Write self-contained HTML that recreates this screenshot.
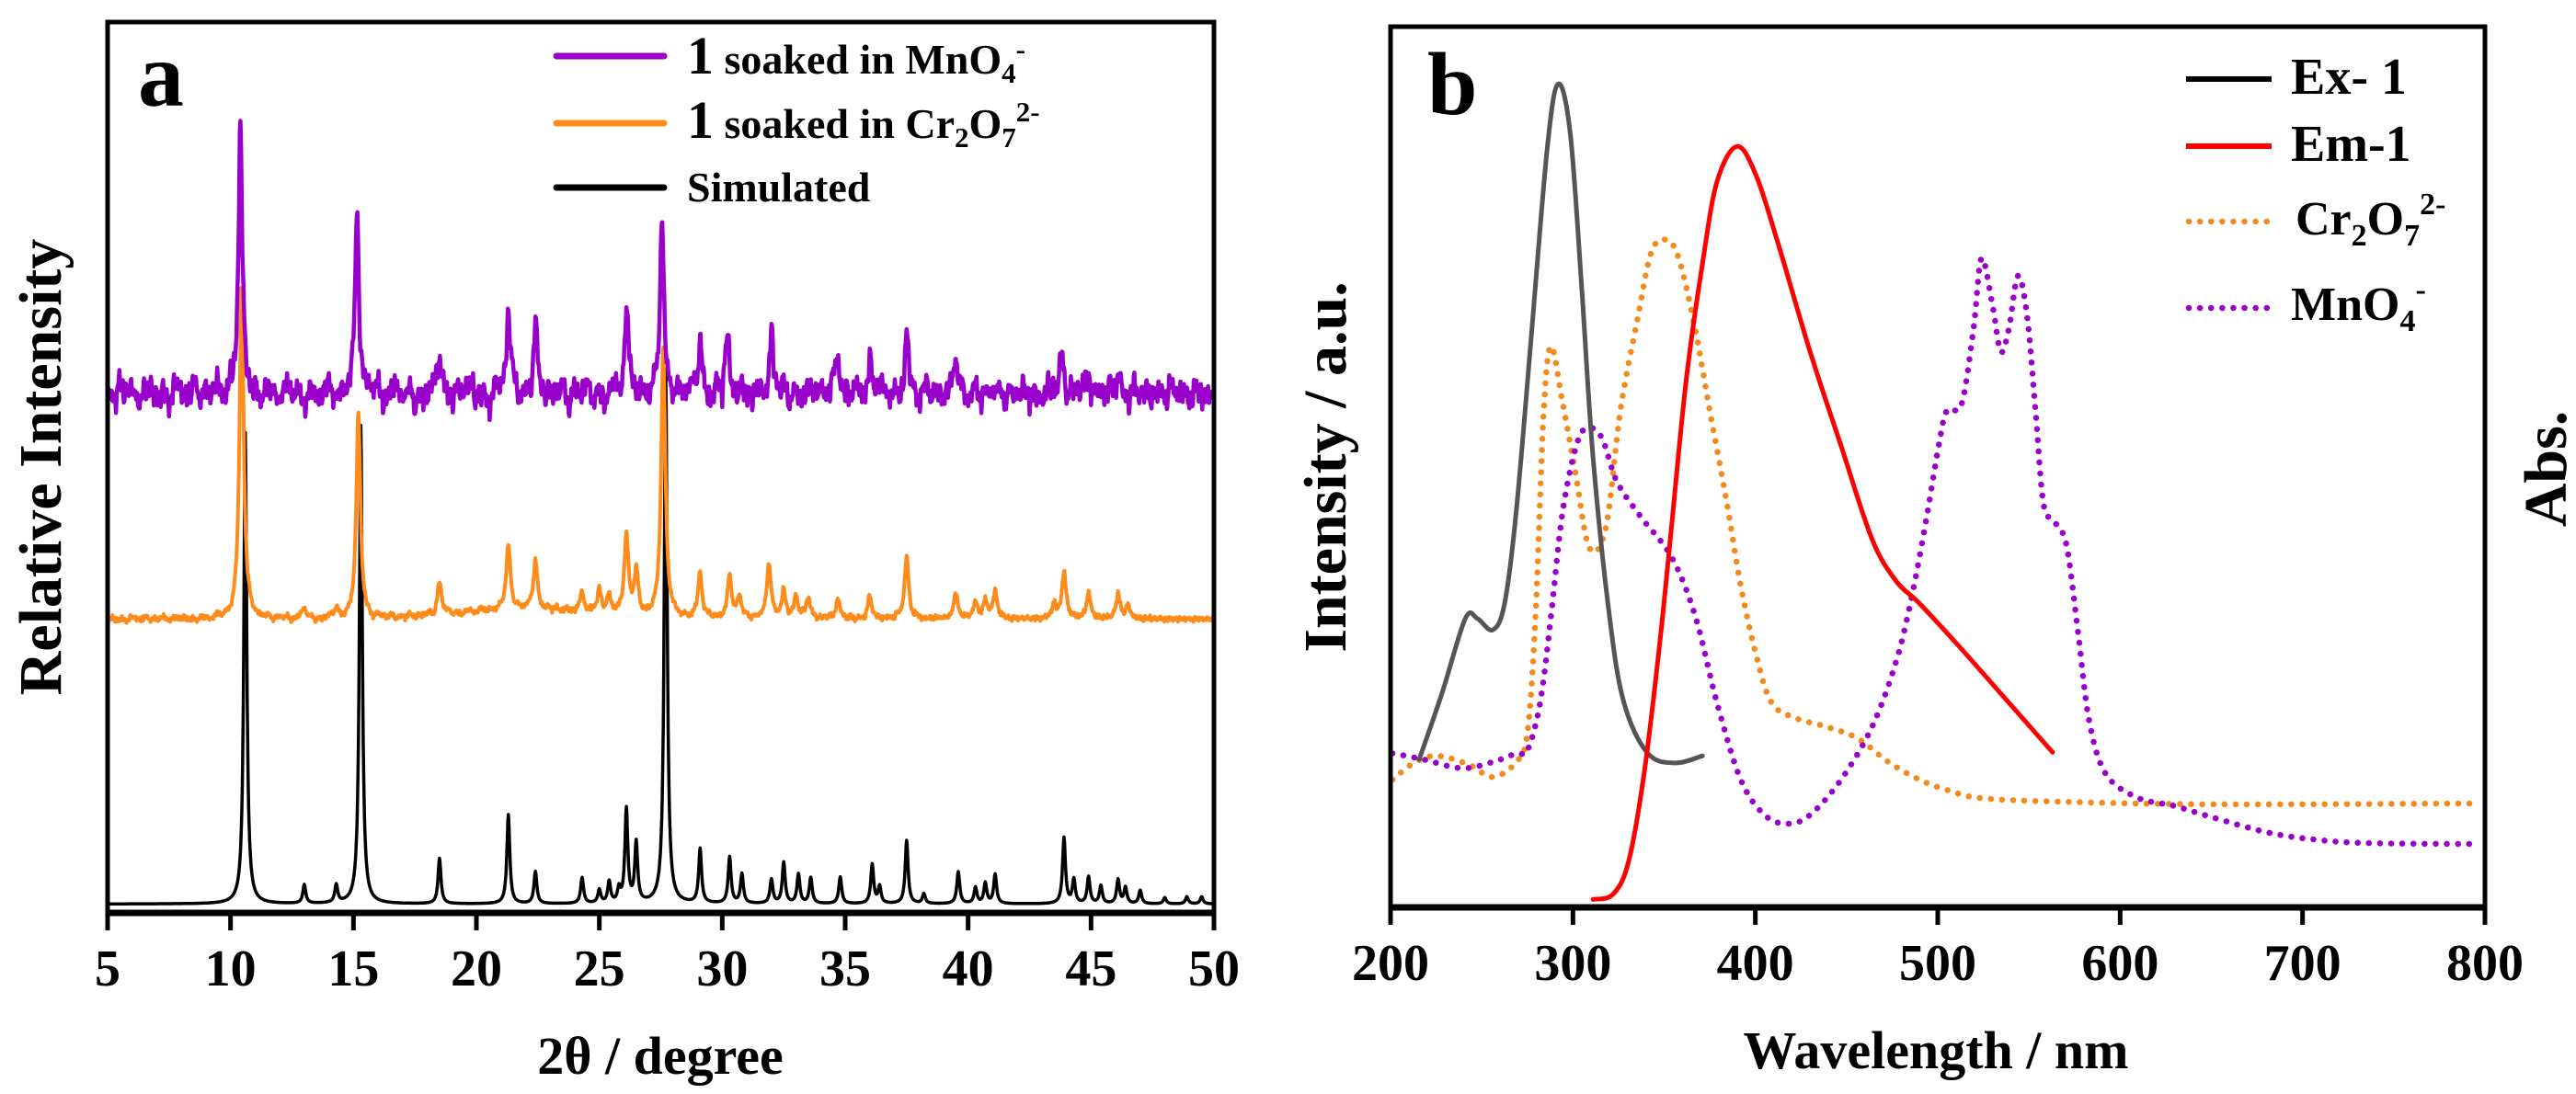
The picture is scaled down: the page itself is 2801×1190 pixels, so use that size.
<!DOCTYPE html>
<html><head><meta charset="utf-8"><style>
html,body{margin:0;padding:0;background:#fff;}
svg{display:block;font-family:"Liberation Serif","Times New Roman",serif;font-weight:bold;}
</style></head><body>
<svg id="fig" width="2801" height="1190" viewBox="0 0 2801 1190" xmlns="http://www.w3.org/2000/svg">
<rect x="0" y="0" width="2801" height="1190" fill="#fff"/>
<g id="pa"></g>
<g id="pb"></g>

<text x="150" y="115" font-size="100">a</text>
<text transform="translate(66,508) rotate(-90)" text-anchor="middle" font-size="66">Relative Intensity</text>
<text x="718" y="1168" text-anchor="middle" font-size="58">2θ / degree</text>
<g>
  <line x1="605" y1="61" x2="722" y2="61" stroke="#9900cc" stroke-width="7" stroke-linecap="round"/>
  <text x="747" y="80" font-size="46"><tspan font-size="58">1</tspan> soaked in MnO<tspan font-size="31" dy="10">4</tspan><tspan font-size="31" dy="-26">-</tspan></text>
  <line x1="605" y1="134" x2="722" y2="134" stroke="#ff8c1a" stroke-width="7" stroke-linecap="round"/>
  <text x="747" y="150" font-size="46"><tspan font-size="58">1</tspan> soaked in Cr<tspan font-size="31" dy="10">2</tspan><tspan dy="-10">O</tspan><tspan font-size="31" dy="10">7</tspan><tspan font-size="31" dy="-28">2-</tspan></text>
  <line x1="605" y1="204" x2="722" y2="204" stroke="#000" stroke-width="7" stroke-linecap="round"/>
  <text x="747" y="219" font-size="46">Simulated</text>
</g>

<text x="1552" y="124" font-size="98">b</text>
<text transform="translate(1463,508) rotate(-90)" text-anchor="middle" font-size="66">Intensity / a.u.</text>
<text transform="translate(2790,510) rotate(-90)" text-anchor="middle" font-size="66">Abs.</text>
<text x="2105" y="1162" text-anchor="middle" font-size="58">Wavelength / nm</text>
<g>
  <line x1="2377" y1="86" x2="2470" y2="86" stroke="#000" stroke-width="6"/>
  <text x="2491" y="102" font-size="56">Ex- 1</text>
  <line x1="2377" y1="159" x2="2470" y2="159" stroke="#ff0000" stroke-width="6"/>
  <text x="2491" y="175" font-size="56">Em-1</text>
  <line x1="2380" y1="241" x2="2470" y2="241" stroke="#f28a1c" stroke-width="6.5" stroke-dasharray="0.1 12" stroke-linecap="round"/>
  <text x="2496" y="255" font-size="52">Cr<tspan font-size="34" dy="12">2</tspan><tspan dy="-12">O</tspan><tspan font-size="34" dy="12">7</tspan><tspan font-size="34" dy="-34">2-</tspan></text>
  <line x1="2380" y1="335" x2="2470" y2="335" stroke="#9900cc" stroke-width="6.5" stroke-dasharray="0.1 12" stroke-linecap="round"/>
  <text x="2491" y="348" font-size="52">MnO<tspan font-size="34" dy="12">4</tspan><tspan font-size="34" dy="-34">-</tspan></text>
</g>
</svg>
<script>
const aTicks = [5,10,15,20,25,30,35,40,45,50];
const simBase = 1.0;
const simPos = [10.6,13.0,14.3,15.3,18.5,21.3,22.4,24.3,25.0,25.4,25.8,26.1,26.5,27.7,29.1,30.3,30.8,32.0,32.5,33.1,33.6,34.8,36.1,36.4,37.5,38.2,39.6,40.3,40.7,41.1,43.9,44.3,44.9,45.4,46.1,46.4,47.0,48.0,48.9,49.5];
const simH   = [52.9,2.1,2.0,53.7,5.1,10.0,3.6,2.9,1.5,2.4,1.5,10.5,6.7,60.0,6.1,5.2,3.3,2.7,4.6,3.3,2.9,3.0,4.4,1.9,7.1,1.1,3.6,1.8,2.3,3.3,7.4,2.7,3.0,2.0,2.7,1.8,1.5,0.7,0.8,0.8];
const crBase = 33.0;
const crPos = [10.45,13.0,14.3,15.2,18.5,21.3,22.4,24.3,25.0,25.4,26.1,26.5,27.6,29.1,30.3,30.7,31.9,32.5,33.0,33.5,34.7,36.0,37.5,39.5,40.3,40.7,41.1,43.5,43.9,44.9,46.1,46.5];
const crH   = [37.7,1.2,1.0,23.0,3.6,7.2,5.5,2.1,2.4,2.0,8.8,4.7,30.2,5.0,4.7,2.5,6.3,2.9,2.6,2.3,2.2,2.4,7.0,2.9,1.8,2.0,3.1,1.6,5.3,2.9,2.7,1.5];
const crHumpPos = [22.0];
const crHumpH = [1.1];
const mnBase = 58.4;
const mnPos = [10.4,15.15,18.5,21.3,22.4,26.1,27.55,29.1,30.2,32.0,34.7,36.0,37.5,39.5,43.8,44.9,46.1];
const mnH   = [29.6,21.1,4.0,9.5,7.2,9.8,19.4,6.2,6.3,6.5,5.0,3.5,6.5,4.3,4.6,2.6,2.5];
const mnNoise = [0.5,-1.2,1.4,-0.3,0.8,-1.5,0.2,1.1,-0.9,0.6,-1.8,1.3,0.1,-0.7,1.6,-1.1,0.4,-0.2,1.2,-1.4,0.7,-0.5,1.5,-1.0,0.3,-1.6,0.9,0.0,-1.3,1.4,-0.4,0.6,-1.9,1.0,-0.8,0.2,1.3,-1.2,0.5,-0.6,1.7,-1.5,0.8,-0.1,1.1,-1.7,0.4,0.9,-1.0,1.2,-2.0,0.3,-0.9,1.5,-0.4,0.7,-1.4,1.0,-0.2,1.3,-1.1,0.6,-1.8,0.9,0.1,-0.6,1.4,-1.3,0.2,-0.8,1.6,-1.2,0.5,-0.3,1.1,-1.6,0.8,-0.5,1.3,-0.9,0.3,-1.4,1.0,0.2,-1.1,1.5,-0.7,0.4,-1.5,1.2,-0.1,0.6,-1.3,0.9,-0.6,1.4,-1.0,0.3,-1.7,1.1,-0.4,0.8,-1.2,0.5,0.0,-0.9,1.3,-1.5,0.7,-0.3,1.0,-1.1,0.4,-1.6,1.2,-0.5,0.9,-0.8,1.5,-1.3,0.2,-0.7,1.1,-1.4,0.6,-0.2,1.3,-1.0,0.5,-1.8,0.8,0.1,-1.2,1.4,-0.6,0.3,-1.1,1.0,-0.4,0.7,-1.5,1.2,-0.9,0.4,-0.3,1.1,-1.3,0.6,-0.7,0.9,-1.0,0.2,-1.4,1.3,-0.5,0.8,-1.1,0.4,-0.2,1.0,-1.2,0.7,-0.6,1.2,-0.9,0.3,-1.3,0.9,-0.4,0.6,-1.0,0.5,-0.8,1.1,-0.3,0.4,-1.1,0.8,-0.5,0.2,-0.7,0.6];

const bTicks = [200,300,400,500,600,700,800];
const exWl  = [215.7,228.5,241,247.6,256,262.5,269,277,286,292,298.6,305,311,320,328,341,356,371];
const exVal = [0.168,0.245,0.328,0.328,0.315,0.345,0.451,0.644,0.864,0.935,0.877,0.697,0.511,0.331,0.232,0.175,0.164,0.172];
const emWl  = [311,322,330.5,339,347.5,354,362,371,379,390,400.6,413,430,447,464,477,490,511,536.6,563];
const emVal = [0.009,0.015,0.052,0.152,0.298,0.431,0.597,0.731,0.824,0.864,0.830,0.750,0.631,0.524,0.418,0.371,0.345,0.298,0.238,0.176];
const crWl  = [201,213.6,226,243,256,269,275,279.5,284,288,294,301,309,318,326,335,343,351,358,367,375,384,392,400.6,409,422,439,456,473,490,507,524,566,651,794];
const crVal = [0.145,0.165,0.172,0.162,0.148,0.165,0.198,0.331,0.564,0.637,0.577,0.498,0.408,0.431,0.564,0.664,0.744,0.758,0.737,0.657,0.564,0.464,0.365,0.285,0.232,0.215,0.205,0.192,0.165,0.145,0.132,0.124,0.120,0.117,0.118];
const mnWl  = [201,218,239,256,269,275,282,288,294,301,307,315.6,324,337,354,367,379,392,405,417.6,430,447,464,477,485.6,494,500.5,505,513,519.6,524,530,534.5,539,544,549,553.6,558,564,570.6,577,583,592,609,630,651,681,706.6,736,794];
const mnVal = [0.175,0.168,0.158,0.165,0.175,0.178,0.232,0.331,0.444,0.518,0.544,0.534,0.484,0.444,0.398,0.331,0.232,0.145,0.105,0.095,0.105,0.145,0.205,0.278,0.351,0.444,0.524,0.564,0.571,0.657,0.737,0.684,0.631,0.657,0.717,0.671,0.564,0.458,0.438,0.411,0.311,0.212,0.152,0.125,0.115,0.102,0.085,0.077,0.073,0.072];

const NS = 'http://www.w3.org/2000/svg';
function mk(tag, attrs, parent){ const e=document.createElementNS(NS,tag); for(const k in attrs) e.setAttribute(k,attrs[k]); parent.appendChild(e); return e; }

const A = {l:117, r:1320, t:24, b:993, x0:5, x1:50};
function xA(v){ return A.l + (v-A.x0)/(A.x1-A.x0)*(A.r-A.l); }
function yA(v){ return A.b - v/100*(A.b-A.t); }
const B = {l:1512, r:2702, t:29, b:987, x0:200, x1:800};
function xB(v){ return B.l + (v-B.x0)/(B.x1-B.x0)*(B.r-B.l); }
function yB(v){ return B.b - v*(B.b-B.t); }

function lor(x, pos, h, w){ let s=0; for(let i=0;i<pos.length;i++){ const d=(x-pos[i])/w; s+=h[i]/(1+d*d); } return s; }
function gau(x, pos, h, w){ let s=0; for(let i=0;i<pos.length;i++){ const d=(x-pos[i])/w; s+=h[i]*Math.exp(-d*d); } return s; }
function noiseAt(x){ const f=(x-5)/0.25; const i=Math.floor(f); const t=f-i; const a=mnNoise[i]||0, b=mnNoise[i+1]||0; return a+(b-a)*t; }
function denseNoise(x){ return noiseAt(x) + 0.9*noiseAt(5+((x-5)*3.7)%45) + 0.6*noiseAt(5+((x-5)*7.3+13)%45); }

const pa = document.getElementById('pa');
const pb = document.getElementById('pb');

function seriesA(fn){ const pts=[]; for(let k=0;k<=2250;k++){ const x=5+k*0.02; pts.push(xA(x).toFixed(1)+','+yA(fn(x)).toFixed(1)); } return pts.join(' '); }

const simLine = mk('polyline',{points:seriesA(x=>simBase+lor(x,simPos,simH,0.07)),fill:'none',stroke:'#000','stroke-width':3.5,'stroke-linejoin':'round'},pa);


const crLine = mk('polyline',{points:seriesA(x=>crBase+lor(x,crPos,crH,0.1)+gau(x,crHumpPos,crHumpH,4)+0.2*denseNoise(x*1.3)),fill:'none',stroke:'#ff8c1a','stroke-width':4,'stroke-linejoin':'round'},pa);


const mnLine = mk('polyline',{points:seriesA(x=>mnBase+lor(x,mnPos,mnH,0.09)+0.9*denseNoise(x)),fill:'none',stroke:'#9900cc','stroke-width':4.5,'stroke-linejoin':'round'},pa);



const frameA = mk('rect',{x:A.l,y:A.t,width:A.r-A.l,height:A.b-A.t,fill:'none',stroke:'#000','stroke-width':5},pa);


const axA = mk('line',{x1:A.l-2,y1:A.b,x2:A.r+2,y2:A.b,stroke:'#000','stroke-width':7},pa);


aTicks.forEach(v=>{
  const t=mk('line',{x1:xA(v),y1:A.b,x2:xA(v),y2:A.b+19,stroke:'#000','stroke-width':5},pa);
  
  
  const l=mk('text',{x:xA(v),y:1072,'text-anchor':'middle','font-size':56},pa);
  l.textContent=v;
  
  
});

function smoothPath(xs, ys){
  const p=xs.map((x,i)=>[xB(x),yB(ys[i])]);
  let d='M'+p[0][0].toFixed(1)+','+p[0][1].toFixed(1);
  for(let i=0;i<p.length-1;i++){
    const p0=p[i-1]||p[i], p1=p[i], p2=p[i+1], p3=p[i+2]||p2;
    const c1=[p1[0]+(p2[0]-p0[0])/6, p1[1]+(p2[1]-p0[1])/6];
    const c2=[p2[0]-(p3[0]-p1[0])/6, p2[1]-(p3[1]-p1[1])/6];
    d+=' C'+c1[0].toFixed(1)+','+c1[1].toFixed(1)+' '+c2[0].toFixed(1)+','+c2[1].toFixed(1)+' '+p2[0].toFixed(1)+','+p2[1].toFixed(1);
  }
  return d;
}
const crB = mk('path',{d:smoothPath(crWl,crVal),fill:'none',stroke:'#f28a1c','stroke-width':6.5,'stroke-dasharray':'0.1 12','stroke-linecap':'round'},pb);


const mnB = mk('path',{d:smoothPath(mnWl,mnVal),fill:'none',stroke:'#9900cc','stroke-width':6.5,'stroke-dasharray':'0.1 12','stroke-linecap':'round'},pb);


const exB = mk('path',{d:smoothPath(exWl,exVal),fill:'none',stroke:'#555','stroke-width':5,'stroke-linecap':'round'},pb);


const emB = mk('path',{d:smoothPath(emWl,emVal),fill:'none',stroke:'#ff0000','stroke-width':5,'stroke-linecap':'round'},pb);



const frameB = mk('rect',{x:B.l,y:B.t,width:B.r-B.l,height:B.b-B.t,fill:'none',stroke:'#000','stroke-width':5},pb);


const axB = mk('line',{x1:B.l-2,y1:B.b,x2:B.r+2,y2:B.b,stroke:'#000','stroke-width':7},pb);


bTicks.forEach(v=>{
  const t=mk('line',{x1:xB(v),y1:B.b,x2:xB(v),y2:B.b+19,stroke:'#000','stroke-width':5},pb);
  
  
  const l=mk('text',{x:xB(v),y:1066,'text-anchor':'middle','font-size':56},pb);
  l.textContent=v;
  
  
});
</script>
</body></html>
